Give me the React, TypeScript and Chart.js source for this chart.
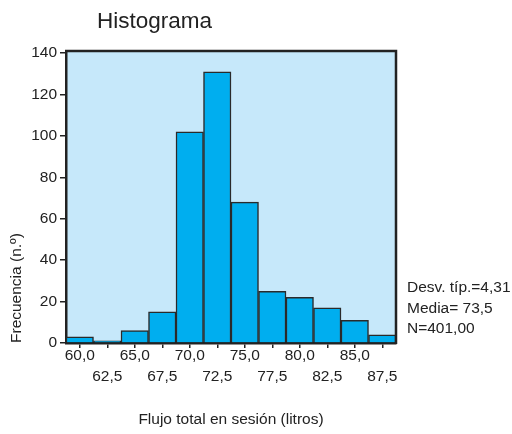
import { useEffect, useRef } from "react";
import { Chart, registerables } from "chart.js";

Chart.register(...registerables);

const chartTitle = "Histograma";
const categories = ["60,0", "62,5", "65,0", "67,5", "70,0", "72,5", "75,0", "77,5", "80,0", "82,5", "85,0", "87,5"];
const frequencies = [3, 1, 6, 15, 102, 131, 68, 25, 22, 17, 11, 4];
const yTickValues = [0, 20, 40, 60, 80, 100, 120, 140];
const yAxisTitle = "Frecuencia (n.º)";
const xAxisTitle = "Flujo total en sesión (litros)";
const statsLines = ["Desv. típ.=4,31", "Media= 73,5", "N=401,00"];

const FONT = "'Liberation Sans', Arial, Helvetica, sans-serif";
const INK = "#222222";
const SMALL = 15.5;

export default function App() {
  const ref = useRef<HTMLCanvasElement | null>(null);

  useEffect(() => {
    if (!ref.current) return;

    const decor = {
      id: "decor",
      beforeDraw(chart: any) {
        const { ctx, chartArea } = chart;
        ctx.save();
        ctx.fillStyle = "#C6E8FA";
        ctx.fillRect(chartArea.left, chartArea.top, chartArea.right - chartArea.left, chartArea.bottom - chartArea.top);
        ctx.restore();
      },
      afterDraw(chart: any) {
        const { ctx, chartArea } = chart;
        ctx.save();
        ctx.strokeStyle = INK;
        ctx.lineWidth = 2.5;
        ctx.beginPath();
        ctx.moveTo(chartArea.left - 1, chartArea.top);
        ctx.lineTo(chartArea.right, chartArea.top);
        ctx.lineTo(chartArea.right, chartArea.bottom + 1);
        ctx.stroke();

        ctx.fillStyle = INK;
        ctx.textBaseline = "alphabetic";
        ctx.textAlign = "left";
        ctx.font = `22.5px ${FONT}`;
        ctx.fillText(chartTitle, 97, 28);
        ctx.font = `${SMALL}px ${FONT}`;
        statsLines.forEach((s, i) => {
          ctx.fillText(s, 407, 292 + i * 20.5);
        });
        ctx.restore();
      },
    };

    const chart = new Chart(ref.current, {
      type: "bar",
      data: {
        labels: categories,
        datasets: [
          {
            data: frequencies,
            backgroundColor: "#00AEEF",
            borderColor: "#2a2a2a",
            borderWidth: 1.5,
            categoryPercentage: 1,
            barPercentage: 1,
          },
        ],
      },
      options: {
        animation: false,
        responsive: false,
        layout: { padding: { top: 51, right: 116, left: 0, bottom: 0 } },
        plugins: { legend: { display: false }, tooltip: { enabled: false }, title: { display: false } },
        scales: {
          x: {
            type: "category",
            z: 1,
            afterFit(scale: any) {
              scale.height = 91;
            },
            border: { display: true, color: INK, width: 2.5 },
            grid: {
              display: true,
              drawOnChartArea: false,
              drawTicks: true,
              tickLength: 5,
              offset: false,
              color: INK,
              lineWidth: 1.5,
            },
            ticks: {
              autoSkip: false,
              maxRotation: 0,
              minRotation: 0,
              padding: -2,
              color: INK,
              font: { family: FONT, size: SMALL, lineHeight: 1.3 },
              callback: (_v: any, i: number) => (i % 2 === 0 ? categories[i] : ["", categories[i]]),
            },
            title: {
              display: true,
              text: xAxisTitle,
              color: INK,
              font: { family: FONT, size: SMALL },
              padding: { top: 0, bottom: 5 },
            },
          },
          y: {
            type: "linear",
            z: 1,
            min: 0,
            max: 141,
            afterFit(scale: any) {
              scale.width = 66;
            },
            afterBuildTicks(scale: any) {
              scale.ticks = yTickValues.map((v) => ({ value: v }));
            },
            border: { display: true, color: INK, width: 2.5 },
            grid: {
              display: true,
              drawOnChartArea: false,
              drawTicks: true,
              tickLength: 6,
              color: INK,
              lineWidth: 1.5,
            },
            ticks: {
              stepSize: 20,
              padding: 3,
              color: INK,
              font: { family: FONT, size: SMALL },
            },
            title: {
              display: true,
              text: yAxisTitle,
              align: "start",
              color: INK,
              font: { family: FONT, size: SMALL },
              padding: { top: 7, bottom: 0 },
            },
          },
        },
      },
      plugins: [decor],
    } as any);

    return () => chart.destroy();
  }, []);

  return (
    <div style={{ position: "absolute", left: 0, top: 0, width: 512, height: 434, background: "#fff" }}>
      <canvas ref={ref} width={512} height={434} style={{ display: "block" }} />
    </div>
  );
}
